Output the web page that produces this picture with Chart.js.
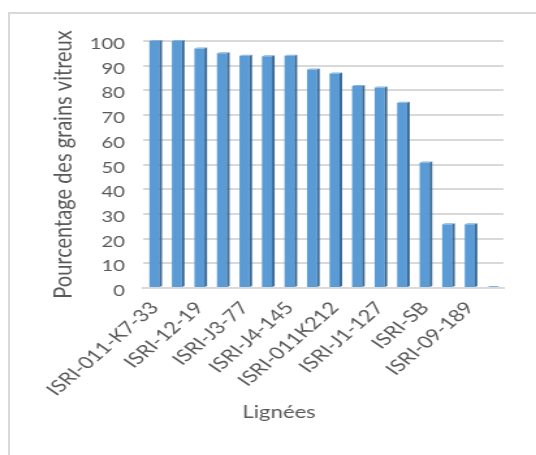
<!DOCTYPE html>
<html>
<head>
<meta charset="utf-8">
<script src="https://cdn.jsdelivr.net/npm/chart.js@4.4.1/dist/chart.umd.min.js"></script>
<style>
  html, body { margin: 0; padding: 0; background: #ffffff; }
  #wrap { position: relative; width: 536px; height: 455px; overflow: hidden; }
  #frame { position: absolute; left: 8px; top: 12px; right: 0; bottom: 0;
           border-left: 2px solid #d9d9d9; border-top: 2px solid #d9d9d9; pointer-events: none; }
  /* the chart is laid out on a narrower canvas and widened to the page */
  #c { position: absolute; left: 0; top: 0; width: 536px !important; height: 455px !important; }
</style>
</head>
<body>
<div id="wrap">
  <canvas id="c" width="412" height="455"></canvas>
  <div id="frame"></div>
</div>
<script>
// Lines (only every second name is printed on the axis)
const lignees = [
  'ISRI-011-K7-33', '', 'ISRI-12-19', '', 'ISRI-J3-77', '', 'ISRI-J4-145', '',
  'ISRI-011K212', '', 'ISRI-J1-127', '', 'ISRI-SB', '', 'ISRI-09-189', ''
];
// Percentage of vitreous grains per line
const vitreux = [100, 100, 97, 95, 94, 93.8, 94, 88.5, 86.8, 81.8, 81.2, 75, 50.8, 25.8, 25.8, 0.4];
const yTicks = [0, 10, 20, 30, 40, 50, 60, 70, 80, 90, 100];
const xTitle = 'Lignées';

const font = "Lato, 'Open Sans', 'Liberation Sans', sans-serif";
const textColor = '#595959';

// Draws the darker side face and light top of each bar for a raised look
const barDepth = {
  id: 'barDepth',
  afterDatasetsDraw(chart) {
    const ctx = chart.ctx;
    const meta = chart.getDatasetMeta(0);
    ctx.save();
    meta.data.forEach(bar => {
      const p = bar.getProps(['x', 'y', 'base', 'width'], true);
      const left = p.x - p.width / 2;
      const right = p.x + p.width / 2;
      const d = 2;
      ctx.fillStyle = '#3a6a96';
      ctx.beginPath();
      ctx.moveTo(right, p.y);
      ctx.lineTo(right + d, p.y - 1);
      ctx.lineTo(right + d, p.base - 1);
      ctx.lineTo(right, p.base);
      ctx.closePath();
      ctx.fill();
      ctx.fillStyle = '#7fb2e2';
      ctx.beginPath();
      ctx.moveTo(left, p.y);
      ctx.lineTo(left + d, p.y - 1);
      ctx.lineTo(right + d, p.y - 1);
      ctx.lineTo(right, p.y);
      ctx.closePath();
      ctx.fill();
    });
    ctx.restore();
  }
};

// Category axis title, centred under the axis and its labels
const categoryTitle = {
  id: 'categoryTitle',
  afterDraw(chart) {
    const ctx = chart.ctx;
    const x = chart.scales.x;
    ctx.save();
    ctx.fillStyle = textColor;
    ctx.font = '17px ' + font;
    ctx.textAlign = 'center';
    ctx.textBaseline = 'middle';
    ctx.fillText(xTitle, (x.left + x.right) / 2 - 34, x.bottom - 42);
    ctx.restore();
  }
};

new Chart(document.getElementById('c'), {
  type: 'bar',
  data: {
    labels: lignees,
    datasets: [{
      data: vitreux,
      backgroundColor: '#5b9bd5',
      borderWidth: 0,
      barPercentage: 0.89,
      categoryPercentage: 0.5
    }]
  },
  options: {
    responsive: false,
    animation: false,
    events: [],
    layout: { padding: { top: 41, right: 25, left: 0, bottom: 0 } },
    plugins: { legend: { display: false }, tooltip: { enabled: false } },
    scales: {
      x: {
        grid: { display: false, drawTicks: false },
        border: { display: true, color: '#d9d9d9', width: 2 },
        ticks: {
          autoSkip: false,
          maxRotation: 48,
          minRotation: 48,
          padding: 10,
          color: textColor,
          font: { family: font, size: 17 }
        },
        afterFit(scale) { scale.height = 167; }
      },
      y: {
        min: 0,
        max: 100,
        afterBuildTicks(scale) { scale.ticks = yTicks.map(v => ({ value: v })); },
        grid: { color: '#d9d9d9', lineWidth: 2, drawTicks: false },
        border: { display: false },
        ticks: {
          padding: 14,
          labelOffset: 3,
          color: textColor,
          font: { family: font, size: 15.5 }
        },
        title: {
          display: true,
          text: 'Pourcentage des grains vitreux',
          color: textColor,
          font: { family: font, size: 20 },
          padding: { top: 37, bottom: 0 }
        },
        afterFit(scale) { scale.width = 110; }
      }
    }
  },
  plugins: [barDepth, categoryTitle]
});
</script>
</body>
</html>
